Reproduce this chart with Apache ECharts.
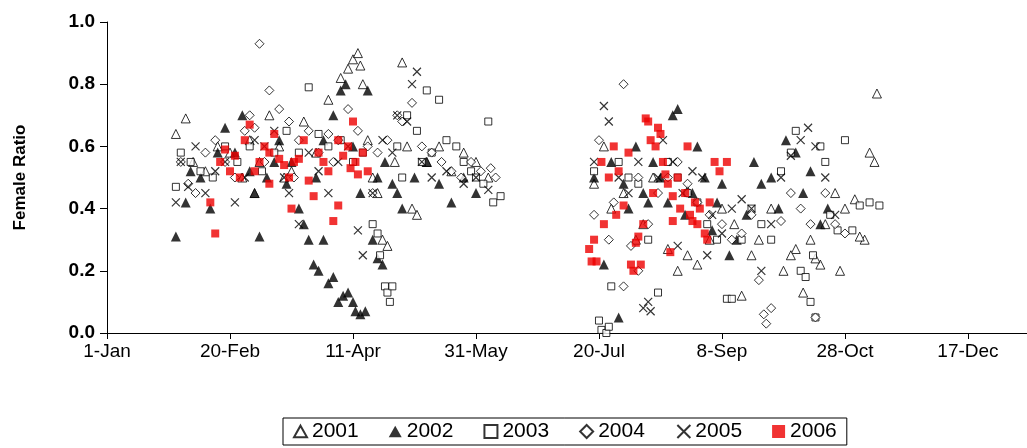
<!DOCTYPE html>
<html><head><meta charset="utf-8">
<script src="https://cdn.jsdelivr.net/npm/echarts@6/dist/echarts.min.js"></script>
<style>html,body{margin:0;background:#fff}#c{width:1027px;height:448px}</style>
</head><body><div id="c"></div>
<script>
const tickLabels = {0:'1-Jan',50:'20-Feb',100:'11-Apr',150:'31-May',200:'20-Jul',250:'8-Sep',300:'28-Oct',350:'17-Dec'};
const s2001 = [[28,0.64],[32,0.69],[35,0.55],[40,0.52],[45,0.6],[50,0.58],[55,0.5],[58,0.62],[62,0.55],[66,0.7],[70,0.6],[75,0.52],[80,0.68],[85,0.58],[90,0.75],[95,0.82],[98,0.85],[100,0.88],[102,0.9],[103,0.86],[104,0.8],[106,0.62],[108,0.5],[110,0.45],[112,0.3],[114,0.28],[117,0.55],[120,0.87],[122,0.6],[124,0.4],[126,0.38],[130,0.55],[135,0.6],[140,0.52],[145,0.58],[150,0.55],[155,0.5],[60,0.45],[72,0.5],
[198,0.48],[202,0.6],[205,0.4],[210,0.45],[215,0.3],[218,0.35],[222,0.5],[228,0.27],[232,0.2],[236,0.25],[240,0.22],[245,0.3],[250,0.4],[255,0.35],[258,0.12],[262,0.25],[265,0.3],[270,0.4],[275,0.2],[280,0.27],[283,0.13],[286,0.3],[290,0.22],[292,0.35],[296,0.45],[300,0.4],[304,0.43],[308,0.3],[310,0.58],[312,0.55],[313,0.77],[306,0.31],[298,0.2],[288,0.24],[278,0.25]];
const s2002 = [[28,0.31],[32,0.42],[34,0.52],[38,0.5],[42,0.4],[45,0.58],[48,0.66],[52,0.58],[55,0.7],[58,0.52],[60,0.45],[62,0.31],[65,0.5],[68,0.55],[70,0.62],[73,0.48],[75,0.55],[78,0.4],[80,0.35],[82,0.3],[84,0.22],[86,0.2],[88,0.3],[90,0.16],[92,0.18],[94,0.1],[96,0.12],[98,0.13],[100,0.1],[101,0.07],[103,0.06],[105,0.07],[108,0.3],[110,0.24],[112,0.22],[95,0.78],[92,0.7],[97,0.8],[100,0.6],[103,0.45],[106,0.78],[110,0.5],[113,0.55],[116,0.48],[118,0.45],[120,0.4],[125,0.5],[130,0.55],[135,0.48],[140,0.42],[145,0.5],[150,0.45],[88,0.62],[85,0.5],
[198,0.5],[202,0.22],[205,0.55],[208,0.05],[210,0.48],[212,0.4],[215,0.6],[218,0.45],[220,0.42],[222,0.55],[225,0.5],[228,0.42],[230,0.7],[232,0.72],[235,0.38],[238,0.45],[240,0.6],[243,0.5],[246,0.33],[250,0.48],[253,0.25],[256,0.3],[260,0.38],[263,0.55],[266,0.48],[270,0.5],[273,0.4],[276,0.62],[280,0.58],[283,0.45],[286,0.52],[290,0.35],[293,0.4],[248,0.42],[236,0.46]];
const s2003 = [[28,0.47],[30,0.58],[34,0.55],[38,0.52],[43,0.5],[48,0.6],[53,0.55],[58,0.6],[63,0.52],[68,0.58],[73,0.65],[78,0.58],[82,0.79],[86,0.64],[90,0.6],[95,0.62],[100,0.55],[104,0.58],[108,0.35],[110,0.32],[111,0.25],[113,0.15],[114,0.13],[115,0.1],[116,0.15],[118,0.6],[122,0.7],[126,0.65],[130,0.78],[132,0.58],[135,0.75],[138,0.62],[142,0.6],[145,0.55],[148,0.52],[150,0.5],[153,0.48],[157,0.42],[160,0.44],[155,0.68],[128,0.55],[120,0.5],
[198,0.52],[200,0.04],[201,0.01],[203,0.0],[204,0.02],[205,0.15],[208,0.55],[212,0.5],[216,0.48],[220,0.3],[224,0.13],[228,0.55],[232,0.5],[236,0.45],[240,0.42],[244,0.35],[248,0.3],[252,0.11],[254,0.11],[258,0.3],[262,0.4],[266,0.35],[270,0.3],[274,0.52],[278,0.58],[280,0.65],[282,0.2],[284,0.18],[286,0.1],[288,0.05],[290,0.6],[292,0.55],[294,0.38],[297,0.33],[300,0.62],[303,0.33],[306,0.41],[310,0.42],[314,0.41],[287,0.25]];
const s2004 = [[30,0.55],[33,0.48],[36,0.45],[40,0.58],[44,0.62],[48,0.55],[52,0.5],[56,0.65],[58,0.7],[60,0.66],[62,0.93],[64,0.55],[66,0.78],[70,0.72],[74,0.68],[78,0.62],[82,0.65],[86,0.58],[90,0.64],[94,0.62],[98,0.72],[102,0.65],[106,0.6],[110,0.58],[114,0.62],[118,0.7],[120,0.68],[124,0.74],[128,0.6],[132,0.58],[136,0.55],[140,0.52],[144,0.5],[148,0.55],[152,0.52],[156,0.53],[158,0.5],[76,0.5],[92,0.55],[108,0.45],
[198,0.38],[200,0.62],[204,0.3],[206,0.42],[210,0.8],[213,0.28],[216,0.5],[220,0.35],[224,0.45],[228,0.5],[232,0.55],[236,0.48],[240,0.42],[245,0.38],[250,0.35],[254,0.3],[258,0.32],[262,0.38],[265,0.17],[267,0.06],[268,0.03],[270,0.08],[274,0.36],[278,0.45],[282,0.4],[286,0.35],[288,0.05],[292,0.45],[296,0.35],[300,0.32],[210,0.15],[216,0.2]];
const s2005 = [[28,0.42],[30,0.55],[33,0.47],[36,0.6],[40,0.45],[44,0.52],[48,0.55],[52,0.42],[56,0.5],[60,0.62],[64,0.6],[68,0.65],[72,0.5],[74,0.45],[78,0.35],[82,0.58],[86,0.52],[90,0.45],[94,0.55],[98,0.6],[102,0.33],[104,0.25],[108,0.45],[112,0.62],[116,0.58],[118,0.7],[122,0.68],[124,0.8],[126,0.84],[128,0.55],[132,0.5],[138,0.52],[145,0.48],[150,0.5],[155,0.46],
[198,0.55],[202,0.73],[204,0.68],[208,0.5],[212,0.45],[216,0.55],[218,0.08],[220,0.1],[221,0.07],[224,0.5],[226,0.62],[230,0.55],[234,0.45],[238,0.52],[242,0.5],[246,0.38],[250,0.32],[254,0.4],[258,0.43],[262,0.4],[266,0.2],[270,0.35],[274,0.5],[278,0.57],[282,0.62],[285,0.66],[288,0.6],[292,0.5],[296,0.38],[232,0.28],[244,0.25]];
const s2006 = [[42,0.42],[44,0.32],[46,0.55],[48,0.59],[50,0.52],[52,0.57],[54,0.5],[56,0.62],[58,0.67],[60,0.52],[62,0.55],[64,0.6],[66,0.58],[68,0.64],[70,0.56],[72,0.54],[74,0.5],[75,0.4],[78,0.56],[80,0.62],[82,0.49],[84,0.44],[86,0.58],[88,0.55],[90,0.52],[92,0.36],[94,0.41],[96,0.57],[98,0.6],[99,0.53],[100,0.68],[101,0.55],[102,0.51],[104,0.58],[106,0.52],[66,0.48],[76,0.55],[94,0.62],
[196,0.27],[197,0.23],[198,0.3],[199,0.23],[201,0.55],[202,0.35],[204,0.5],[206,0.6],[207,0.38],[208,0.52],[210,0.41],[212,0.58],[213,0.22],[214,0.2],[215,0.29],[216,0.31],[217,0.22],[218,0.35],[219,0.69],[220,0.68],[221,0.62],[222,0.45],[223,0.6],[224,0.66],[225,0.64],[226,0.55],[227,0.51],[228,0.48],[229,0.26],[230,0.44],[232,0.5],[233,0.4],[235,0.45],[237,0.38],[238,0.36],[239,0.42],[240,0.35],[241,0.4],[243,0.32],[244,0.3],[245,0.42],[247,0.55],[249,0.52],[252,0.55],[236,0.6],[230,0.36]];

const tri = 'path://M5,0L10,9L0,9Z';
const cross = 'path://M0,0L10,10M10,0L0,10';
const mk = (name, data, symbol, size, style) => ({name, type:'scatter', data, symbol, symbolSize:size, itemStyle:style, z: name==='2006'?5:2});
const chart = echarts.init(document.getElementById('c'));
chart.setOption({
  animation:false,
  textStyle:{fontFamily:'Liberation Sans, Arial'},
  grid:{left:107, right:0, top:22, bottom:115, containLabel:false, outerBoundsMode:'none'},
  xAxis:{type:'value', min:0, max:374, interval:50, splitLine:{show:false},
    axisLine:{lineStyle:{color:'#000'}}, axisTick:{show:true, length:6, lineStyle:{color:'#000'}},
    axisLabel:{color:'#000', fontSize:19, margin:9, showMaxLabel:false, formatter:v=>tickLabels[v]||''}},
  yAxis:{type:'value', min:0, max:1, interval:0.2, splitLine:{show:false},
    name:'Female Ratio', nameLocation:'middle', nameGap:78, nameRotate:90,
    nameTextStyle:{fontSize:17, fontWeight:'bold', color:'#000'},
    axisLine:{show:true, lineStyle:{color:'#000'}}, axisTick:{show:true, length:7, lineStyle:{color:'#000'}},
    axisLabel:{color:'#000', fontSize:19, fontWeight:'bold', margin:12, formatter:v=>v.toFixed(1)}},
  legend:{bottom:3, left:283, itemGap:30, itemWidth:13, itemHeight:13, borderColor:'#000', borderWidth:1, padding:[3,10], borderRadius:0,
    textStyle:{fontSize:21, color:'#000'}},
  series:[
    mk('2001', s2001, tri, 9, {color:'#fff', borderColor:'#000', borderWidth:1}),
    mk('2002', s2002, tri, 10, {color:'#000', borderColor:'#000', borderWidth:0}),
    mk('2003', s2003, 'rect', 7, {color:'#fff', borderColor:'#000', borderWidth:1}),
    mk('2004', s2004, 'diamond', 9, {color:'#fff', borderColor:'#000', borderWidth:1}),
    mk('2005', s2005, cross, 8, {color:'none', borderColor:'#000', borderWidth:1.2}),
    mk('2006', s2006, 'rect', 8, {color:'#ee0000', borderColor:'#ee0000', borderWidth:0})
  ]
});
</script></body></html>
